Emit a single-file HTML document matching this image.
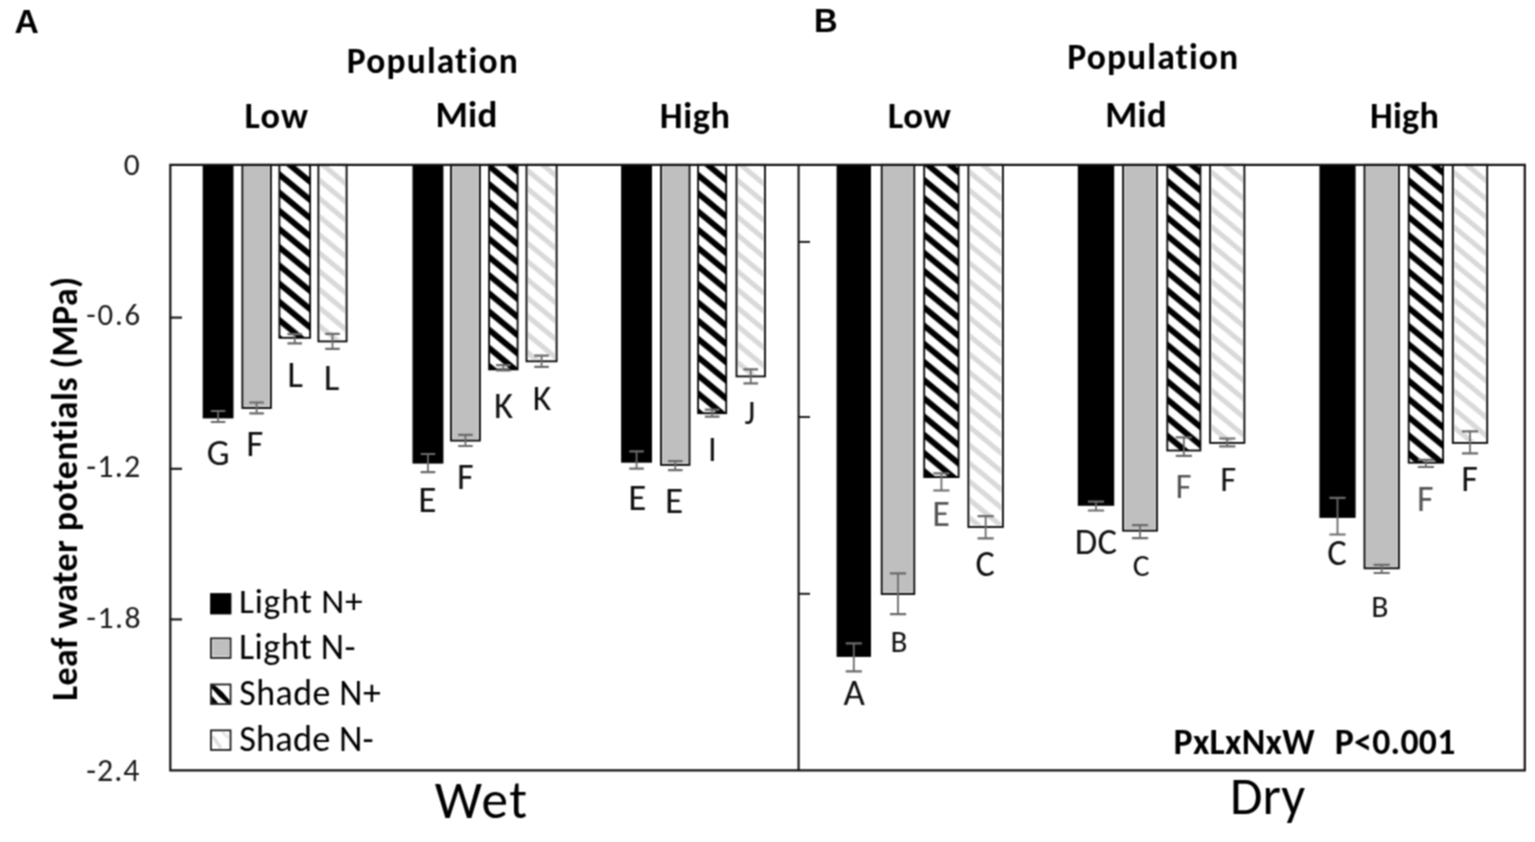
<!DOCTYPE html><html><head><meta charset="utf-8"><title>Leaf water potentials</title>
<style>html,body{margin:0;padding:0;background:#fff;}svg{display:block;}text{font-variant-ligatures:none;font-kerning:normal;}</style></head><body>
<svg width="1535" height="842" viewBox="0 0 1535 842">
<defs>
<pattern id="ph" patternUnits="userSpaceOnUse" width="22.0" height="18.2" x="0" y="16.2"><rect width="22.0" height="18.2" fill="#fff"/><g stroke="#000" stroke-width="6.0"><line x1="-66" y1="-36.4" x2="22" y2="36.4"/><line x1="-44" y1="-36.4" x2="44" y2="36.4"/><line x1="-22" y1="-36.4" x2="66" y2="36.4"/><line x1="0" y1="-36.4" x2="88" y2="36.4"/></g></pattern>
<pattern id="pl" patternUnits="userSpaceOnUse" width="22.0" height="18.2" x="0" y="7"><rect width="22.0" height="18.2" fill="#fff"/><g stroke="#d9d9d9" stroke-width="5.0"><line x1="-66" y1="-36.4" x2="22" y2="36.4"/><line x1="-44" y1="-36.4" x2="44" y2="36.4"/><line x1="-22" y1="-36.4" x2="66" y2="36.4"/><line x1="0" y1="-36.4" x2="88" y2="36.4"/></g></pattern>
<filter id="soft" filterUnits="userSpaceOnUse" x="0" y="0" width="1535" height="842" color-interpolation-filters="sRGB"><feConvolveMatrix order="3" kernelMatrix="1 2 1 2 4 2 1 2 1" divisor="16" edgeMode="duplicate"/></filter>
</defs>
<g filter="url(#soft)">
<rect width="1535" height="842" fill="#fff"/>
<g id="gfx">
<rect x="202.7" y="164.8" width="30.8" height="253.6" fill="#000"/>
<path d="M218.1 411V422" stroke="#6a6a6a" stroke-width="1.8" fill="none"/>
<path d="M210.8 411H225.4M210.8 422H225.4" stroke="#6a6a6a" stroke-width="2.2" fill="none"/>
<rect x="242.4" y="164.8" width="28.5" height="243.2" fill="#e6e6e6" stroke="#000" stroke-width="1.8"/>
<rect x="244" y="164.8" width="25.3" height="241.6" fill="#bfbfbf"/>
<path d="M256.65 402.5V413.4" stroke="#6a6a6a" stroke-width="1.8" fill="none"/>
<path d="M249.35 402.5H263.95M249.35 413.4H263.95" stroke="#6a6a6a" stroke-width="2.2" fill="none"/>
<rect x="279.4" y="164.8" width="30.7" height="173" fill="url(#ph)" stroke="#000" stroke-width="1.8"/>
<path d="M294.75 334.2V343.3" stroke="#6a6a6a" stroke-width="1.8" fill="none"/>
<path d="M287.45 334.2H302.05M287.45 343.3H302.05" stroke="#6a6a6a" stroke-width="2.2" fill="none"/>
<rect x="318.4" y="164.8" width="28.2" height="176.6" fill="#fff" stroke="#000" stroke-width="1.8"/>
<rect x="320" y="164.8" width="25" height="175" fill="url(#pl)"/>
<path d="M332.5 333.8V348.8" stroke="#6a6a6a" stroke-width="1.8" fill="none"/>
<path d="M325.2 333.8H339.8M325.2 348.8H339.8" stroke="#6a6a6a" stroke-width="2.2" fill="none"/>
<rect x="412.5" y="164.8" width="30.9" height="298.8" fill="#000"/>
<path d="M427.95 454V472.2" stroke="#6a6a6a" stroke-width="1.8" fill="none"/>
<path d="M420.65 454H435.25M420.65 472.2H435.25" stroke="#6a6a6a" stroke-width="2.2" fill="none"/>
<rect x="451" y="164.8" width="28.9" height="275.8" fill="#e6e6e6" stroke="#000" stroke-width="1.8"/>
<rect x="452.6" y="164.8" width="25.7" height="274.2" fill="#bfbfbf"/>
<path d="M465.45 434.9V446" stroke="#6a6a6a" stroke-width="1.8" fill="none"/>
<path d="M458.15 434.9H472.75M458.15 446H472.75" stroke="#6a6a6a" stroke-width="2.2" fill="none"/>
<rect x="489.1" y="164.8" width="28.5" height="204.6" fill="url(#ph)" stroke="#000" stroke-width="1.8"/>
<path d="M503.35 365.2V370.3" stroke="#6a6a6a" stroke-width="1.8" fill="none"/>
<path d="M496.05 365.2H510.65M496.05 370.3H510.65" stroke="#6a6a6a" stroke-width="2.2" fill="none"/>
<rect x="526.5" y="164.8" width="30.1" height="196.5" fill="#fff" stroke="#000" stroke-width="1.8"/>
<rect x="528.1" y="164.8" width="26.9" height="194.9" fill="url(#pl)"/>
<path d="M541.55 355.7V366.9" stroke="#6a6a6a" stroke-width="1.8" fill="none"/>
<path d="M534.25 355.7H548.85M534.25 366.9H548.85" stroke="#6a6a6a" stroke-width="2.2" fill="none"/>
<rect x="621.1" y="164.8" width="30.9" height="297.9" fill="#000"/>
<path d="M636.55 451.4V468.6" stroke="#6a6a6a" stroke-width="1.8" fill="none"/>
<path d="M629.25 451.4H643.85M629.25 468.6H643.85" stroke="#6a6a6a" stroke-width="2.2" fill="none"/>
<rect x="661" y="164.8" width="28.5" height="300.1" fill="#e6e6e6" stroke="#000" stroke-width="1.8"/>
<rect x="662.6" y="164.8" width="25.3" height="298.5" fill="#bfbfbf"/>
<path d="M675.25 461.1V470.2" stroke="#6a6a6a" stroke-width="1.8" fill="none"/>
<path d="M667.95 461.1H682.55M667.95 470.2H682.55" stroke="#6a6a6a" stroke-width="2.2" fill="none"/>
<rect x="698.1" y="164.8" width="28.1" height="248.4" fill="url(#ph)" stroke="#000" stroke-width="1.8"/>
<path d="M712.15 409.7V416.7" stroke="#6a6a6a" stroke-width="1.8" fill="none"/>
<path d="M704.85 409.7H719.45M704.85 416.7H719.45" stroke="#6a6a6a" stroke-width="2.2" fill="none"/>
<rect x="736.5" y="164.8" width="28.5" height="211.6" fill="#fff" stroke="#000" stroke-width="1.8"/>
<rect x="738.1" y="164.8" width="25.3" height="210" fill="url(#pl)"/>
<path d="M750.75 369.3V383.4" stroke="#6a6a6a" stroke-width="1.8" fill="none"/>
<path d="M743.45 369.3H758.05M743.45 383.4H758.05" stroke="#6a6a6a" stroke-width="2.2" fill="none"/>
<rect x="836.6" y="164.8" width="34.4" height="492.1" fill="#000"/>
<path d="M853.8 643.3V671.3" stroke="#6a6a6a" stroke-width="1.8" fill="none"/>
<path d="M845.7 643.3H861.9M845.7 671.3H861.9" stroke="#6a6a6a" stroke-width="2.2" fill="none"/>
<rect x="881.7" y="164.8" width="32.6" height="429.2" fill="#e6e6e6" stroke="#000" stroke-width="1.8"/>
<rect x="883.3" y="164.8" width="29.4" height="427.6" fill="#bfbfbf"/>
<path d="M898 573.4V614.2" stroke="#6a6a6a" stroke-width="1.8" fill="none"/>
<path d="M889.9 573.4H906.1M889.9 614.2H906.1" stroke="#6a6a6a" stroke-width="2.2" fill="none"/>
<rect x="924.2" y="164.8" width="34.4" height="312.3" fill="url(#ph)" stroke="#000" stroke-width="1.8"/>
<path d="M941.4 473.4V490.5" stroke="#6a6a6a" stroke-width="1.8" fill="none"/>
<path d="M933.3 473.4H949.5M933.3 490.5H949.5" stroke="#6a6a6a" stroke-width="2.2" fill="none"/>
<rect x="968.4" y="164.8" width="34.5" height="362.2" fill="#fff" stroke="#000" stroke-width="1.8"/>
<rect x="970" y="164.8" width="31.3" height="360.6" fill="url(#pl)"/>
<path d="M985.65 516.2V538.3" stroke="#6a6a6a" stroke-width="1.8" fill="none"/>
<path d="M977.55 516.2H993.75M977.55 538.3H993.75" stroke="#6a6a6a" stroke-width="2.2" fill="none"/>
<rect x="1077.8" y="164.8" width="36.4" height="341" fill="#000"/>
<path d="M1096 501.7V510.5" stroke="#6a6a6a" stroke-width="1.8" fill="none"/>
<path d="M1087.9 501.7H1104.1M1087.9 510.5H1104.1" stroke="#6a6a6a" stroke-width="2.2" fill="none"/>
<rect x="1123.1" y="164.8" width="33.9" height="365.9" fill="#e6e6e6" stroke="#000" stroke-width="1.8"/>
<rect x="1124.7" y="164.8" width="30.7" height="364.3" fill="#bfbfbf"/>
<path d="M1140.05 525.2V538.2" stroke="#6a6a6a" stroke-width="1.8" fill="none"/>
<path d="M1131.95 525.2H1148.15M1131.95 538.2H1148.15" stroke="#6a6a6a" stroke-width="2.2" fill="none"/>
<rect x="1167.3" y="164.8" width="33.1" height="285.7" fill="url(#ph)" stroke="#000" stroke-width="1.8"/>
<path d="M1183.85 437.3V455.8" stroke="#6a6a6a" stroke-width="1.8" fill="none"/>
<path d="M1175.75 437.3H1191.95M1175.75 455.8H1191.95" stroke="#6a6a6a" stroke-width="2.2" fill="none"/>
<rect x="1210.1" y="164.8" width="34.3" height="278.1" fill="#fff" stroke="#000" stroke-width="1.8"/>
<rect x="1211.7" y="164.8" width="31.1" height="276.5" fill="url(#pl)"/>
<path d="M1227.25 438.5V446.3" stroke="#6a6a6a" stroke-width="1.8" fill="none"/>
<path d="M1219.15 438.5H1235.35M1219.15 446.3H1235.35" stroke="#6a6a6a" stroke-width="2.2" fill="none"/>
<rect x="1319.4" y="164.8" width="36.2" height="353.1" fill="#000"/>
<path d="M1337.5 497.8V534.5" stroke="#6a6a6a" stroke-width="1.8" fill="none"/>
<path d="M1329.4 497.8H1345.6M1329.4 534.5H1345.6" stroke="#6a6a6a" stroke-width="2.2" fill="none"/>
<rect x="1364.5" y="164.8" width="34.4" height="403.5" fill="#e6e6e6" stroke="#000" stroke-width="1.8"/>
<rect x="1366.1" y="164.8" width="31.2" height="401.9" fill="#bfbfbf"/>
<path d="M1381.7 564.8V573" stroke="#6a6a6a" stroke-width="1.8" fill="none"/>
<path d="M1373.6 564.8H1389.8M1373.6 573H1389.8" stroke="#6a6a6a" stroke-width="2.2" fill="none"/>
<rect x="1408.7" y="164.8" width="34.4" height="297.9" fill="url(#ph)" stroke="#000" stroke-width="1.8"/>
<path d="M1425.9 459.9V467" stroke="#6a6a6a" stroke-width="1.8" fill="none"/>
<path d="M1417.8 459.9H1434M1417.8 467H1434" stroke="#6a6a6a" stroke-width="2.2" fill="none"/>
<rect x="1452.8" y="164.8" width="34.4" height="278.1" fill="#fff" stroke="#000" stroke-width="1.8"/>
<rect x="1454.4" y="164.8" width="31.2" height="276.5" fill="url(#pl)"/>
<path d="M1470 431.4V453.3" stroke="#6a6a6a" stroke-width="1.8" fill="none"/>
<path d="M1461.9 431.4H1478.1M1461.9 453.3H1478.1" stroke="#6a6a6a" stroke-width="2.2" fill="none"/>
<path d="M170.3 164.8H1524.8V770.3H170.3Z" fill="none" stroke="#111" stroke-width="2.2"/>
<path d="M798.6 164.8V770.3" stroke="#111" stroke-width="2.1"/>
<path d="M170.3 317.6H182" stroke="#111" stroke-width="2.1"/>
<path d="M170.3 468.8H182" stroke="#111" stroke-width="2.1"/>
<path d="M170.3 619.4H182" stroke="#111" stroke-width="2.1"/>
<path d="M798.6 241.9H810" stroke="#111" stroke-width="1.9"/>
<path d="M798.6 417.0H810" stroke="#111" stroke-width="1.9"/>
<path d="M798.6 593.8H810" stroke="#111" stroke-width="1.9"/>
<rect x="210.1" y="593.1" width="21.3" height="21.3" fill="#000"/>
<rect x="210.95" y="638.35" width="19.6" height="19.6" fill="#fff"/><rect x="212.5" y="639.9" width="16.5" height="16.5" fill="#bfbfbf"/><rect x="210.95" y="638.35" width="19.6" height="19.6" fill="none" stroke="#111" stroke-width="1.7"/>
<rect x="210.95" y="684.45" width="19.6" height="19.6" fill="#fff"/><polygon points="211.8,685.3 214.8,685.3 223,692.5 229.7,700.5 229.7,703.2 227,703.2 219,696.5 211.8,688.3" fill="#000"/><polygon points="211.8,695.7 211.8,703.2 218.3,703.2" fill="#000"/><rect x="210.95" y="684.45" width="19.6" height="19.6" fill="none" stroke="#111" stroke-width="1.7"/>
<rect x="210.95" y="730.35" width="19.6" height="19.6" fill="#fff"/><path d="M213.6 737.5L220.1 747" stroke="#dedede" stroke-width="3.4" stroke-linecap="round"/><path d="M223.1 733L227.6 737" stroke="#e6e6e6" stroke-width="3" stroke-linecap="round"/><rect x="210.95" y="730.35" width="19.6" height="19.6" fill="none" stroke="#111" stroke-width="1.7"/>
</g>
<g id="txt">
<text id="tA" x="14.41" y="32.84" font-family="'Liberation Sans', Arial, sans-serif" font-weight="bold" font-size="33.7" textLength="24.33" lengthAdjust="spacingAndGlyphs" fill="#000">A</text>
<text id="tB" x="813.92" y="32.37" font-family="'Liberation Sans', Arial, sans-serif" font-weight="bold" font-size="32.77" textLength="23.67" lengthAdjust="spacingAndGlyphs" fill="#000">B</text>
<text id="popA" x="346.81" y="72.5" font-family="'Carlito', 'Liberation Sans', sans-serif" font-weight="bold" font-size="35.47" letter-spacing="1.16" textLength="172.05" lengthAdjust="spacingAndGlyphs" fill="#000">Population</text>
<text id="popB" x="1067.2" y="69.2" font-family="'Carlito', 'Liberation Sans', sans-serif" font-weight="bold" font-size="35.62" letter-spacing="1.1" textLength="172.08" lengthAdjust="spacingAndGlyphs" fill="#000">Population</text>
<text id="lowA" x="244.49" y="128.4" font-family="'Carlito', 'Liberation Sans', sans-serif" font-weight="bold" font-size="36.24" letter-spacing="1.21" textLength="64.8" lengthAdjust="spacingAndGlyphs" fill="#000">Low</text>
<text id="midA" x="435.39" y="126.8" font-family="'Carlito', 'Liberation Sans', sans-serif" font-weight="bold" font-size="37.01" letter-spacing="0.38" textLength="62.42" lengthAdjust="spacingAndGlyphs" fill="#000">Mid</text>
<text id="highA" x="659.7" y="128.4" font-family="'Carlito', 'Liberation Sans', sans-serif" font-weight="bold" font-size="36.24" letter-spacing="0.63" textLength="70.91" lengthAdjust="spacingAndGlyphs" fill="#000">High</text>
<text id="lowB" x="887.76" y="128.4" font-family="'Carlito', 'Liberation Sans', sans-serif" font-weight="bold" font-size="36.7" letter-spacing="0.53" textLength="63.53" lengthAdjust="spacingAndGlyphs" fill="#000">Low</text>
<text id="midB" x="1105.32" y="126.5" font-family="'Carlito', 'Liberation Sans', sans-serif" font-weight="bold" font-size="36.55" letter-spacing="0.33" textLength="61.53" lengthAdjust="spacingAndGlyphs" fill="#000">Mid</text>
<text id="highB" x="1369.91" y="128.3" font-family="'Carlito', 'Liberation Sans', sans-serif" font-weight="bold" font-size="36.09" letter-spacing="0.28" textLength="69.22" lengthAdjust="spacingAndGlyphs" fill="#000">High</text>
<text id="y0" x="123.83" y="174.79" font-family="'Carlito', 'Liberation Sans', sans-serif" font-weight="normal" font-size="31.44" textLength="15.94" lengthAdjust="spacingAndGlyphs" fill="#1a1a1a">0</text>
<text id="y1" x="86.37" y="325.39" font-family="'Carlito', 'Liberation Sans', sans-serif" font-weight="normal" font-size="30.8" letter-spacing="1.75" textLength="55.42" lengthAdjust="spacingAndGlyphs" fill="#1a1a1a">-0.6</text>
<text id="y2" x="86.33" y="477.2" font-family="'Carlito', 'Liberation Sans', sans-serif" font-weight="normal" font-size="32.05" letter-spacing="1.15" textLength="55" lengthAdjust="spacingAndGlyphs" fill="#1a1a1a">-1.2</text>
<text id="y3" x="86.34" y="627.9" font-family="'Carlito', 'Liberation Sans', sans-serif" font-weight="normal" font-size="31.7" letter-spacing="1.43" textLength="55.55" lengthAdjust="spacingAndGlyphs" fill="#1a1a1a">-1.8</text>
<text id="y4" x="86.33" y="780.8" font-family="'Carlito', 'Liberation Sans', sans-serif" font-weight="normal" font-size="31.9" letter-spacing="0.98" textLength="54.06" lengthAdjust="spacingAndGlyphs" fill="#1a1a1a">-2.4</text>
<text id="leg1" x="239.01" y="612.8" font-family="'Carlito', 'Liberation Sans', sans-serif" font-weight="normal" font-size="35.54" letter-spacing="0.71" textLength="124.41" lengthAdjust="spacingAndGlyphs" fill="#000">Light N+</text>
<text id="leg2" x="238.97" y="659" font-family="'Carlito', 'Liberation Sans', sans-serif" font-weight="normal" font-size="36" letter-spacing="0.44" textLength="116.91" lengthAdjust="spacingAndGlyphs" fill="#000">Light N-</text>
<text id="leg3" x="239.24" y="704.8" font-family="'Carlito', 'Liberation Sans', sans-serif" font-weight="normal" font-size="35.85" letter-spacing="0.49" textLength="142.09" lengthAdjust="spacingAndGlyphs" fill="#000">Shade N+</text>
<text id="leg4" x="239.22" y="751.1" font-family="'Carlito', 'Liberation Sans', sans-serif" font-weight="normal" font-size="36.31" letter-spacing="0.2" textLength="134.62" lengthAdjust="spacingAndGlyphs" fill="#000">Shade N-</text>
<text id="wet" x="434.69" y="818.4" font-family="'Carlito', 'Liberation Sans', sans-serif" font-weight="normal" font-size="53.15" letter-spacing="1.51" textLength="93.83" lengthAdjust="spacingAndGlyphs" fill="#000">Wet</text>
<text id="dry" x="1230.11" y="813.5" font-family="'Carlito', 'Liberation Sans', sans-serif" font-weight="normal" font-size="52.84" letter-spacing="-0.05" textLength="74.95" lengthAdjust="spacingAndGlyphs" fill="#000">Dry</text>
<text id="stat1" x="1173.59" y="754.4" font-family="'Carlito', 'Liberation Sans', sans-serif" font-weight="bold" font-size="35.78" letter-spacing="0.28" textLength="141.39" lengthAdjust="spacingAndGlyphs" fill="#000">PxLxNxW</text>
<text id="stat2" x="1334.69" y="754.4" font-family="'Carlito', 'Liberation Sans', sans-serif" font-weight="bold" font-size="35.78" letter-spacing="0.3" textLength="121.02" lengthAdjust="spacingAndGlyphs" fill="#000">P&lt;0.001</text>
<text id="a1" x="206.64" y="465.35" font-family="'Carlito', 'Liberation Sans', sans-serif" font-weight="normal" font-size="36.29" textLength="22.89" lengthAdjust="spacingAndGlyphs" fill="#111">G</text>
<text id="a2" x="246.36" y="456.3" font-family="'Carlito', 'Liberation Sans', sans-serif" font-weight="normal" font-size="37.09" textLength="17.05" lengthAdjust="spacingAndGlyphs" fill="#111">F</text>
<text id="a3" x="287.34" y="386.6" font-family="'Carlito', 'Liberation Sans', sans-serif" font-weight="normal" font-size="37.41" textLength="15.73" lengthAdjust="spacingAndGlyphs" fill="#111">L</text>
<text id="a4" x="323.81" y="390.2" font-family="'Carlito', 'Liberation Sans', sans-serif" font-weight="normal" font-size="37.09" textLength="15.59" lengthAdjust="spacingAndGlyphs" fill="#111">L</text>
<text id="a5" x="418.28" y="512" font-family="'Carlito', 'Liberation Sans', sans-serif" font-weight="normal" font-size="37.41" textLength="18.27" lengthAdjust="spacingAndGlyphs" fill="#111">E</text>
<text id="a6" x="456.95" y="489.4" font-family="'Carlito', 'Liberation Sans', sans-serif" font-weight="normal" font-size="36.16" textLength="16.62" lengthAdjust="spacingAndGlyphs" fill="#111">F</text>
<text id="a7" x="493.96" y="417.7" font-family="'Carlito', 'Liberation Sans', sans-serif" font-weight="normal" font-size="36.63" textLength="19.03" lengthAdjust="spacingAndGlyphs" fill="#111">K</text>
<text id="a8" x="532.73" y="410.3" font-family="'Carlito', 'Liberation Sans', sans-serif" font-weight="normal" font-size="35.69" textLength="18.55" lengthAdjust="spacingAndGlyphs" fill="#111">K</text>
<text id="a9" x="628.16" y="510" font-family="'Carlito', 'Liberation Sans', sans-serif" font-weight="normal" font-size="37.09" textLength="18.11" lengthAdjust="spacingAndGlyphs" fill="#111">E</text>
<text id="a10" x="665.02" y="513.4" font-family="'Carlito', 'Liberation Sans', sans-serif" font-weight="normal" font-size="37.25" textLength="18.2" lengthAdjust="spacingAndGlyphs" fill="#111">E</text>
<text id="a11" x="708.09" y="461.1" font-family="'Carlito', 'Liberation Sans', sans-serif" font-weight="normal" font-size="34.6" textLength="8.72" lengthAdjust="spacingAndGlyphs" fill="#111">I</text>
<text id="a12" x="744.43" y="424.27" font-family="'Carlito', 'Liberation Sans', sans-serif" font-weight="normal" font-size="33.77" textLength="10.78" lengthAdjust="spacingAndGlyphs" fill="#111">J</text>
<text id="b1" x="843.5" y="705.2" font-family="'Carlito', 'Liberation Sans', sans-serif" font-weight="normal" font-size="36.94" textLength="21.38" lengthAdjust="spacingAndGlyphs" fill="#111">A</text>
<text id="b2" x="890.49" y="651.7" font-family="'Carlito', 'Liberation Sans', sans-serif" font-weight="normal" font-size="31.02" textLength="16.88" lengthAdjust="spacingAndGlyphs" fill="#111">B</text>
<text id="b3" x="932.35" y="526.1" font-family="'Carlito', 'Liberation Sans', sans-serif" font-weight="normal" font-size="36.16" textLength="17.66" lengthAdjust="spacingAndGlyphs" fill="#555">E</text>
<text id="b4" x="975.43" y="575.75" font-family="'Carlito', 'Liberation Sans', sans-serif" font-weight="normal" font-size="36.14" textLength="19.27" lengthAdjust="spacingAndGlyphs" fill="#111">C</text>
<text id="b5" x="1074.81" y="553.7" font-family="'Carlito', 'Liberation Sans', sans-serif" font-weight="normal" font-size="36.63" letter-spacing="0.24" textLength="42.55" lengthAdjust="spacingAndGlyphs" fill="#111">DC</text>
<text id="b6" x="1132.83" y="576.18" font-family="'Carlito', 'Liberation Sans', sans-serif" font-weight="normal" font-size="31.57" textLength="16.84" lengthAdjust="spacingAndGlyphs" fill="#111">C</text>
<text id="b7" x="1175.61" y="497.9" font-family="'Carlito', 'Liberation Sans', sans-serif" font-weight="normal" font-size="34.91" textLength="16.05" lengthAdjust="spacingAndGlyphs" fill="#555">F</text>
<text id="b8" x="1220.14" y="490.7" font-family="'Carlito', 'Liberation Sans', sans-serif" font-weight="normal" font-size="34.76" textLength="15.97" lengthAdjust="spacingAndGlyphs" fill="#111">F</text>
<text id="b9" x="1327.25" y="565.15" font-family="'Carlito', 'Liberation Sans', sans-serif" font-weight="normal" font-size="36.6" textLength="19.52" lengthAdjust="spacingAndGlyphs" fill="#111">C</text>
<text id="b10" x="1371.26" y="616.7" font-family="'Carlito', 'Liberation Sans', sans-serif" font-weight="normal" font-size="31.64" textLength="17.2" lengthAdjust="spacingAndGlyphs" fill="#111">B</text>
<text id="b11" x="1417.08" y="511.3" font-family="'Carlito', 'Liberation Sans', sans-serif" font-weight="normal" font-size="36" textLength="16.55" lengthAdjust="spacingAndGlyphs" fill="#555">F</text>
<text id="b12" x="1461.15" y="491" font-family="'Carlito', 'Liberation Sans', sans-serif" font-weight="normal" font-size="36.16" textLength="16.62" lengthAdjust="spacingAndGlyphs" fill="#111">F</text>
<text id="ytitle" textLength="424.8" lengthAdjust="spacingAndGlyphs" transform="translate(76.6 701.09) rotate(-90)" x="0" y="0" font-family="'Carlito', 'Liberation Sans', sans-serif" font-weight="bold" font-size="35.93" letter-spacing="0.44" fill="#000">Leaf water potentials (MPa)</text>
</g>
</g>
</svg></body></html>
